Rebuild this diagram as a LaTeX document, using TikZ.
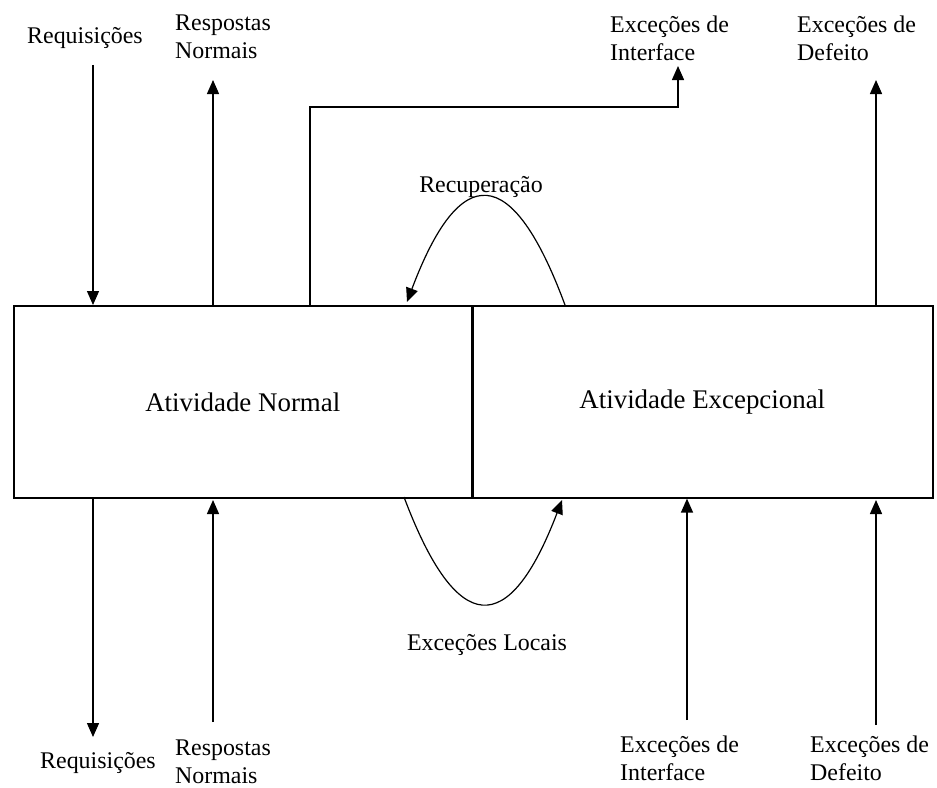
\documentclass[tikz,border=0pt]{standalone}
\usepackage{fontspec}
\setmainfont{Liberation Serif}
\usetikzlibrary{arrows.meta}
\begin{document}
\begin{tikzpicture}[x=1bp,y=-1bp,
  lbl/.style={font=\fontsize{24}{28}\selectfont, inner sep=0pt, align=left},
  activity/.style={draw, line width=1.6bp, font=\fontsize{27}{31}\selectfont,
    minimum height=192bp, anchor=north west, inner sep=0pt},
  flow/.style={line width=1.4bp, -{Triangle[length=14bp,width=12bp]}},
  loopflow/.style={line width=1.2bp, -{Triangle[length=14bp,width=12bp]}}]
\useasboundingbox (0,0) rectangle (937,788);

% the two halves of the component
\node[activity, minimum width=458bp] (normal) at (13,305) {Atividade Normal};
\node[activity, minimum width=461bp] (excep) at (471,305) {Atividade Excepcional};
\draw[line width=3bp] (normal.north east) -- (normal.south east);

% labels above
\node[lbl, anchor=base west] (reqT) at (27,44) {Requisições};
\node[lbl, anchor=north west] (respT) at (175,10.4) {\strut Respostas\\Normais};
\node[lbl, anchor=north west] (ifT) at (610,12.4) {\strut Exceções de\\Interface};
\node[lbl, anchor=north west] (defT) at (797,12.4) {\strut Exceções de\\Defeito};
\node[lbl, anchor=base] (rec) at (481,192) {Recuperação};

% labels below
\node[lbl, anchor=base] (loc) at (487,650) {Exceções Locais};
\node[lbl, anchor=base west] (reqB) at (40,768) {Requisições};
\node[lbl, anchor=north west] (respB) at (175,735.4) {\strut Respostas\\Normais};
\node[lbl, anchor=north west] (ifB) at (620,732.4) {\strut Exceções de\\Interface};
\node[lbl, anchor=north west] (defB) at (810,732.4) {\strut Exceções de\\Defeito};

% free ends of the connectors
\coordinate (reqTe) at (93,65);
\coordinate (respTe) at (213,80);
\coordinate (ifTs) at (310,305);
\coordinate (ifTe) at (678,66);
\coordinate (defTe) at (876,80);
\coordinate (recS) at (565,305);
\coordinate (recE) at (407,302);
\coordinate (locS) at (404,497);
\coordinate (locE) at (562,500);
\coordinate (reqBe) at (93,737);
\coordinate (respBs) at (213,722);
\coordinate (ifBs) at (687,720);
\coordinate (defBs) at (876,725);

% interface of the normal activity
\draw[flow] (reqTe) -- (reqTe |- normal.north);
\draw[flow] (respTe |- normal.north) -- (respTe);
\draw[flow] (ifTs) |- (678,107) -- (ifTe);
\draw[flow] (reqBe |- normal.south) -- (reqBe);
\draw[flow] (respBs) -- (213,500);

% interface of the exceptional activity
\draw[flow] (defTe |- excep.north) -- (defTe);
\draw[flow] (ifBs) -- (ifBs |- excep.south);
\draw[flow] (defBs) -- (876,500);

% internal transfers of control (parabolic arcs)
\draw[loopflow] (recS) .. controls (512,162) and (460,161) .. (recE);
\draw[loopflow] (locS) .. controls (457,638) and (509,639) .. (locE);
\end{tikzpicture}
\end{document}
